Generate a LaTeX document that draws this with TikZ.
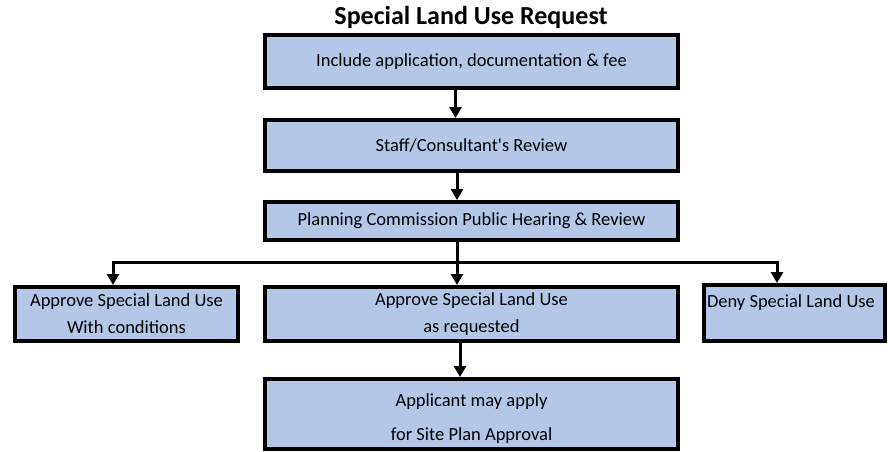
\documentclass[tikz,border=0pt]{standalone}
\usepackage{fontspec}
\setmainfont{Carlito}
\usetikzlibrary{arrows.meta}
\definecolor{boxblue}{RGB}{180,199,231}
\begin{document}
\begin{tikzpicture}[x=1pt,y=1pt,
 box/.style={draw,fill=boxblue,line width=4pt,font=\fontsize{18.5}{27}\selectfont,align=center,inner sep=0pt},
 conn/.style={line width=3pt,-{Triangle[width=12pt,length=11pt]}}]
\useasboundingbox (0,0) rectangle (888,-451);
\node[font=\bfseries\fontsize{26}{28}\selectfont] (title) at (471,-17) {Special Land Use Request};
\node[box,minimum width=413,minimum height=53,text depth=2](inc) at (471.5,-61.5) {Include application, documentation \& fee};
\node[box,minimum width=413,minimum height=51](rev) at (471.5,-145.5) {Staff/Consultant\textquotesingle s Review};
\node[box,minimum width=413,minimum height=38](pch) at (471.5,-221) {Planning Commission Public Hearing \& Review};
\node[box,minimum width=223,minimum height=54](cond) at (126.5,-314) {Approve Special Land Use\\With conditions};
\node[box,minimum width=413,minimum height=54](req) at (471.5,-314) {Approve Special Land Use\\as requested};
\node[box,minimum width=181,minimum height=56,text width=175,align=flush left,text depth=24,inner sep=0pt](deny) at (794.5,-313) {Deny Special Land Use};
\node[box,minimum width=413,minimum height=70,font=\fontsize{18.5}{34}\selectfont](site) at (471.5,-414) {\rule{0pt}{22pt}Applicant may apply\\for Site Plan Approval};
\coordinate (split) at (457,-262);
\draw[conn] ([xshift=-16]inc.south)--([xshift=-16]rev.north);
\draw[conn] ([xshift=-14.5]rev.south)--([xshift=-14.5]pch.north);
\draw[conn] ([xshift=-14.5]pch.south)--([xshift=-14.5]req.north);
\draw[conn] (split)-|([xshift=-13.5]cond.north);
\draw[conn] (split)-|([xshift=-17.5]deny.north);
\draw[conn] ([xshift=-11.5]req.south)--([xshift=-11.5]site.north);
\end{tikzpicture}
\end{document}
